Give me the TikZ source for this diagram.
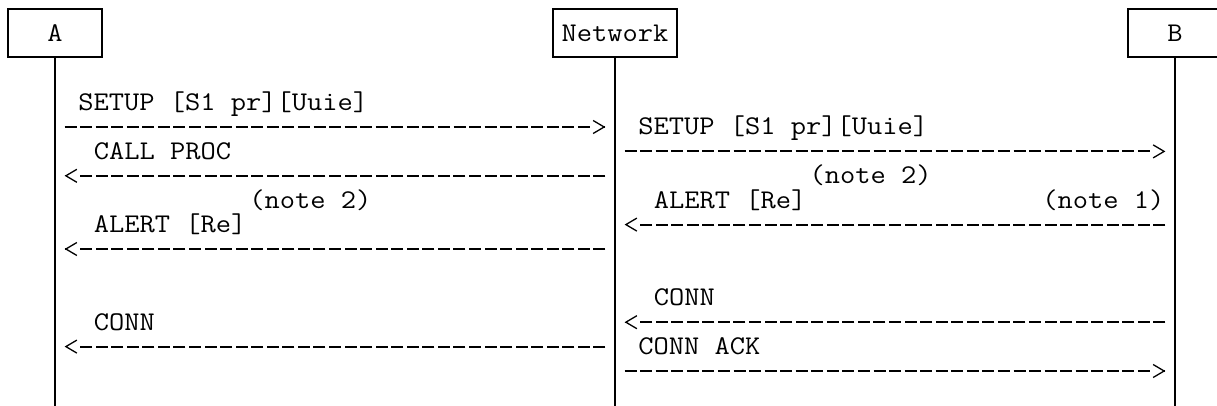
\documentclass[tikz,border=0pt]{standalone}
\usepackage{fontspec}
\setmonofont{Latin Modern Mono}[FakeStretch=1.0974]
\usetikzlibrary{arrows.meta,calc}
\tikzset{
  mono/.style={font=\ttfamily\fontsize{27}{30}\selectfont, inner sep=0pt, outer sep=0pt},
  lbl/.style={mono, anchor=base west},
  actor/.style={draw, line width=2pt, mono, minimum height=48.6pt, inner sep=0pt, outer sep=0pt},
  life/.style={line width=2.4pt},
  shaft/.style={line width=1.9pt, dash pattern=on 12pt off 3.556pt, shorten <=9.6pt, shorten >=25pt},
  head/.style={line width=1.3pt, shorten >=9.6pt, -{Straight Barb[length=11pt,width=13pt]}},
}
\newcommand{\msgline}[2]{%
  \draw[shaft] (#1) -- (#2);
  \draw[head] ($(#2)!10.1pt!(#1)$) -- (#2);
}
\begin{document}
\begin{tikzpicture}[x=1pt,y=-1pt]
\useasboundingbox (0,0) rectangle (1217,406);
% actors
\node[actor, minimum width=93.3pt] (A) at (55,33) {A};
\node[actor, minimum width=124.4pt] (N) at (615,33) {Network};
\node[actor, minimum width=93.3pt] (B) at (1175,33) {B};
\coordinate (Aend) at (55,410);
\coordinate (Nend) at (615,410);
\coordinate (Bend) at (1175,410);
\draw[life] (A.south) -- (Aend);
\draw[life] (N.south) -- (Nend);
\draw[life] (B.south) -- (Bend);
% row coordinates on lifelines
\foreach \r/\y in {1/127,2/151.4,3/175.8,5/224.6,6/249,9/322.2,10/346.6,11/371}{
  \coordinate (a\r) at (55,\y);
  \coordinate (n\r) at (615,\y);
  \coordinate (b\r) at (1175,\y);
}
% left side messages
\node[lbl] (l0) at (78.3,110.6) {SETUP [S1 pr][Uuie]};
\msgline{a1}{n1}
\node[lbl] (l2) at (93.9,159.4) {CALL PROC};
\msgline{n3}{a3}
\node[lbl] (l4) at (249.4,208.2) {(note 2)};
\node[lbl] (l5) at (93.9,232.6) {ALERT [Re]};
\msgline{n6}{a6}
\node[lbl] (l9) at (93.9,330.2) {CONN};
\msgline{n10}{a10}
% right side messages
\node[lbl] (r1) at (638.3,135) {SETUP [S1 pr][Uuie]};
\msgline{n2}{b2}
\node[lbl] (r3) at (809.5,183.8) {(note 2)};
\node[lbl] (r4) at (653.9,208.2) {ALERT [Re]};
\node[lbl] (r4b) at (1042.3,208.2) {(note 1)};
\msgline{b5}{n5}
\node[lbl] (r8) at (653.9,305.8) {CONN};
\msgline{b9}{n9}
\node[lbl] (r10) at (638.3,354.6) {CONN ACK};
\msgline{n11}{b11}
\end{tikzpicture}
\end{document}
